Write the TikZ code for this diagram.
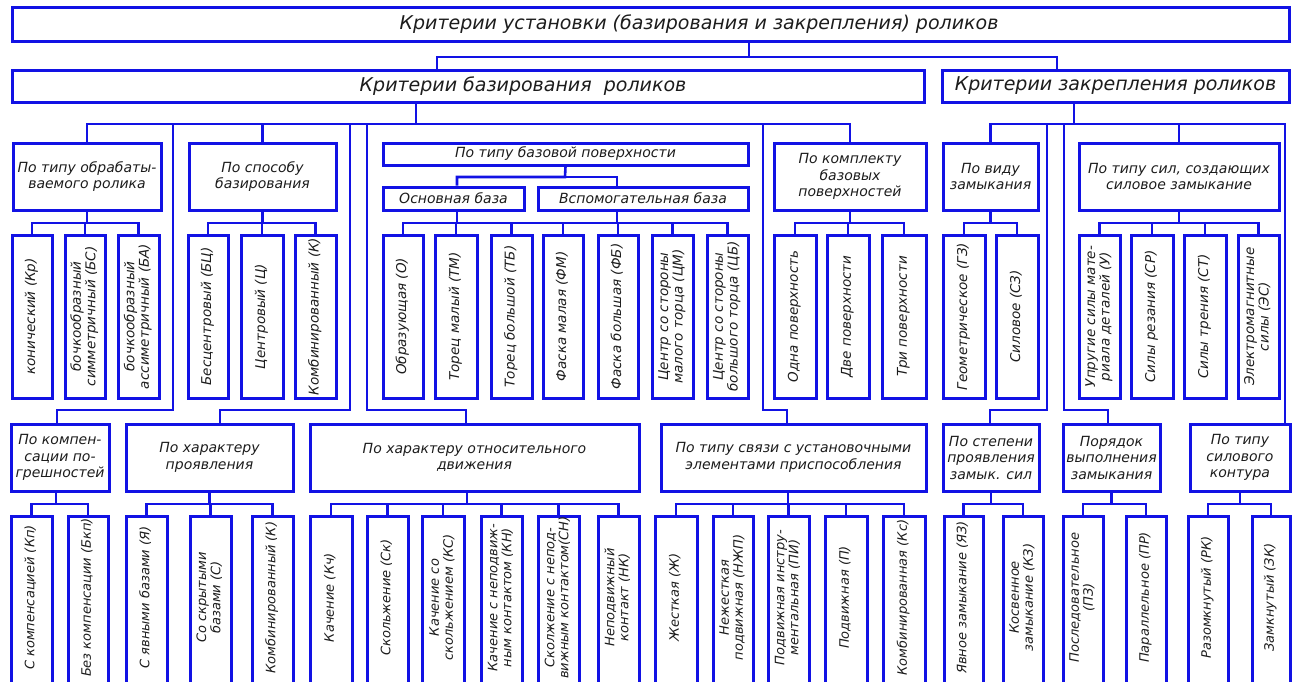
\documentclass[tikz,border=0pt]{standalone}
\usepackage{fontspec}
\setmainfont{DejaVu Sans}
\definecolor{bl}{RGB}{18,18,228}
\definecolor{tx}{RGB}{28,28,28}
\tikzset{
 box/.style={draw=bl, line width=3pt, inner sep=1pt, align=center, text=tx,
   font=\fontsize{14}{16.5}\selectfont\itshape},
 head/.style={box, font=\fontsize{19}{22}\selectfont\itshape},
 leaf/.style={box, rotate=90, font=\fontsize{13.5}{14}\selectfont\itshape},
 leafb/.style={leaf, font=\fontsize{13}{14}\selectfont\itshape},
 wire/.style={draw=bl, line width=2.6pt}
}
% \bx[style]{name}{x1}{y1}{x2}{y2}{text}
\newcommand\bx[7][box]{%
 \pgfmathsetmacro\bxw{#5-#3}\pgfmathsetmacro\bxh{#6-#4}%
 \pgfmathsetmacro\bxcx{(#3+#5)/2}\pgfmathsetmacro\bxcy{(#4+#6)/2}%
 \node[#1,minimum width=\bxw pt,minimum height=\bxh pt] (#2) at (\bxcx,\bxcy) {#7};}
% \lf[shift]{name}{x1}{y1}{x2}{y2}{text}  (rotated leaf, upper row)
\newcommand\lf[7][0pt]{%
 \pgfmathsetmacro\bxw{#6-#4}\pgfmathsetmacro\bxh{#5-#3}%
 \pgfmathsetmacro\bxcx{(#3+#5)/2}\pgfmathsetmacro\bxcy{(#4+#6)/2}%
 \node[leaf,minimum width=\bxw pt,minimum height=\bxh pt] (#2) at (\bxcx,\bxcy)
   {\makebox[0pt]{\hspace*{#1}\begin{tabular}{@{}c@{}}#7\end{tabular}}};}
% \lfb{name}{x1}{y1}{x2}{y2}{text}  (rotated leaf, lower row, cut by the page edge)
\newcommand\lfb[6]{%
 \pgfmathsetmacro\bxw{#5-#3}\pgfmathsetmacro\bxh{#4-#2}%
 \pgfmathsetmacro\bxcx{(#2+#4)/2}\pgfmathsetmacro\bxcy{(#3+#5)/2}%
 \node[leafb,minimum width=\bxw pt,minimum height=\bxh pt] (#1) at (\bxcx,\bxcy)
   {\makebox[0pt]{\hspace*{7pt}\begin{tabular}{@{}c@{}}#6\end{tabular}}};}
\newcommand\fan[3]{\foreach \c in {#3}{\draw[wire] (#1) -- (#1 |- 0,#2) -| (\c.east);}}
\begin{document}
\begin{tikzpicture}[x=1pt,y=-1pt]
\useasboundingbox (0,0) rectangle (1293,681);
% level 0,1
\bx[head]{top}{12}{7}{1289}{41}{\hspace*{97pt}Критерии установки (базирования и закрепления) роликов}
\bx[head]{bz}{12}{70}{924}{102}{\hspace*{110pt}Критерии базирования\ \ роликов}
\bx[head]{zk}{942}{70}{1289}{102}{Критерии закрепления роликов}
% level 2
\bx{A}{13}{143}{161}{210}{По типу обрабаты-\\ваемого ролика}
\bx{B}{189}{143}{336}{210}{По способу\\базирования}
\bx{C}{383}{143}{748}{165}{По типу базовой поверхности}
\bx{C1}{383}{187}{524}{210}{Основная база}
\bx{C2}{538}{187}{748}{210}{Вспомогательная база}
\bx{D}{774}{143}{926}{210}{По комплекту\\базовых\\поверхностей}
\bx{E}{943}{143}{1038}{210}{По виду\\замыкания}
\bx{F}{1079}{143}{1279}{210}{По типу сил, создающих\\силовое замыкание}
% leaves row 1
\lf{a1}{12}{235}{52}{398}{конический (Кр)}
\lf{a2}{65}{235}{105}{398}{бочкообразный\\симметричный (БС)}
\lf{a3}{118}{235}{159}{398}{бочкообразный\\ассиметричный (БА)}
\lf{b1}{188}{235}{228}{398}{Бесцентровый (БЦ)}
\lf{b2}{241}{235}{283}{398}{Центровый (Ц)}
\lf{b3}{295}{235}{336}{398}{Комбинированный (К)}
\lf{c1}{383}{235}{423}{398}{Образующая (О)}
\lf{c2}{435}{235}{477}{398}{Торец малый (ТМ)}
\lf{c3}{491}{235}{532}{398}{Торец большой (ТБ)}
\lf{c4}{543}{235}{583}{398}{Фаска малая (ФМ)}
\lf{c5}{598}{235}{638}{398}{Фаска большая (ФБ)}
\lf{c6}{652}{235}{693}{398}{Центр со стороны\\малого торца (ЦМ)}
\lf{c7}{707}{235}{748}{398}{Центр со стороны\\большого торца (ЦБ)}
\lf{d1}{774}{235}{816}{398}{Одна поверхность}
\lf{d2}{827}{235}{869}{398}{Две поверхности}
\lf{d3}{882}{235}{926}{398}{Три поверхности}
\lf{e1}{943}{235}{985}{398}{Геометрическое (ГЗ)}
\lf{e2}{996}{235}{1038}{398}{Силовое (СЗ)}
\lf{f1}{1079}{235}{1120}{398}{Упругие силы мате-\\риала деталей (У)}
\lf{f2}{1131}{235}{1173}{398}{Силы резания (СР)}
\lf{f3}{1184}{235}{1226}{398}{Силы трения (СТ)}
\lf{f4}{1238}{235}{1279}{398}{Электромагнитные\\силы (ЭС)}
% level 3
\bx{G}{11}{424}{109}{491}{По компен-\\сации по-\\грешностей}
\bx{H}{126}{424}{293}{491}{По характеру\\проявления}
\bx{I}{310}{424}{639}{491}{По характеру относительного\\движения}
\bx{J}{661}{424}{926}{491}{По типу связи с установочными\\элементами приспособления}
\bx{K}{943}{424}{1039}{491}{По степени\\проявления\\замык. сил}
\bx{L}{1063}{424}{1160}{491}{Порядок\\выполнения\\замыкания}
\bx{M}{1190}{424}{1290}{491}{По типу\\силового\\контура}
% leaves row 2
\lfb{g1}{11}{516}{52}{686}{С компенсацией (Кп)}
\lfb{g2}{68}{516}{108}{686}{Без компенсации (Бкп)}
\lfb{h1}{126}{516}{167}{686}{С явными базами (Я)}
\lfb{h2}{190}{516}{231}{686}{Со скрытыми\\базами (С)}
\lfb{h3}{252}{516}{293}{686}{Комбинированный (К)}
\lfb{i1}{310}{516}{352}{686}{Качение (Кч)}
\lfb{i2}{367}{516}{408}{686}{Скольжение (Ск)}
\lfb{i3}{422}{516}{464}{686}{Качение со\\скольжением (КС)}
\lfb{i4}{481}{516}{522}{686}{Качение с неподвиж-\\ным контактом (КН)}
\lfb{i5}{538}{516}{579}{686}{Сколжение с непод-\\вижным контактом(СН)}
\lfb{i6}{598}{516}{639}{686}{Неподвижный\\контакт (НК)}
\lfb{j1}{655}{516}{697}{686}{Жесткая (Ж)}
\lfb{j2}{713}{516}{753}{686}{Нежесткая\\подвижная (НЖП)}
\lfb{j3}{768}{516}{809}{686}{Подвижная инстру-\\ментальная (ПИ)}
\lfb{j4}{825}{516}{867}{686}{Подвижная (П)}
\lfb{j5}{883}{516}{925}{686}{Комбинированная (Кс)}
\lfb{k1}{944}{516}{983}{686}{Явное замыкание (ЯЗ)}
\lfb{k2}{1003}{516}{1043}{686}{Косвенное\\замыкание (КЗ)}
\lfb{l1}{1063}{516}{1103}{686}{Последовательное\\(ПЗ)}
\lfb{l2}{1126}{516}{1166}{686}{Параллельное (ПР)}
\lfb{m1}{1188}{516}{1228}{686}{Разомкнутый (РК)}
\lfb{m2}{1252}{516}{1290}{686}{Замкнутый (ЗК)}
% connectors top
\coordinate (j0) at (749,57);
\draw[wire] (top.south -| j0) -- (j0) -| (bz.north -| 437,0);
\draw[wire] (j0) -| (zk.north -| 1057,0);
% basing bar
\coordinate (jb) at (416,124);
\draw[wire] (bz.south -| jb) -- (jb);
\foreach \n in {A,B,D}{\draw[wire] (jb) -| (\n.north);}
\draw[wire] (jb) -| (173,410) -| (G.north -| 57,0);
\draw[wire] (jb) -| (350,410) -| (H.north -| 220,0);
\draw[wire] (jb) -| (367,410) -| (I.north -| 466,0);
\draw[wire] (jb) -| (763,410) -| (J.north -| 787,0);
% clamping bar
\coordinate (jz) at (1074,124);
\draw[wire] (zk.south -| jz) -- (jz);
\foreach \n in {E,F}{\draw[wire] (jz) -| (\n.north);}
\draw[wire] (jz) -| (1047,410) -| (K.north -| 990,0);
\draw[wire] (jz) -| (1064,410) -| (L.north -| 1108,0);
\draw[wire] (jz) -| (M.north -| 1285,0);
% base surface subtree
\coordinate (jc) at (565,177);
\draw[wire] (C.south) -- (jc) -| (C1.north -| 457,0);
\draw[wire] (jc) -| (C2.north -| 617,0);
\coordinate (c1s) at (C1.south -| 457,0);
\fan{c1s}{223}{c1,c2,c3,c4,c5,c6,c7}
\draw[wire] (C2.south -| 617,0) -- (617,223);
% fans row 1
\fan{A.south}{223}{a1,a2,a3}
\fan{B.south}{223}{b1,b2,b3}
\fan{D.south}{223}{d1,d2,d3}
\fan{E.south}{223}{e1,e2}
\fan{F.south}{223}{f1,f2,f3,f4}
% fans row 2
\coordinate (gs) at (G.south -| 56,0);
\fan{gs}{504}{g1,g2}
\fan{H.south}{504}{h1,h2,h3}
\coordinate (is) at (I.south -| 467,0);
\fan{is}{504}{i1,i2,i3,i4,i5,i6}
\coordinate (js) at (J.south -| 788,0);
\fan{js}{504}{j1,j2,j3,j4,j5}
\fan{K.south}{504}{k1,k2}
\fan{L.south}{504}{l1,l2}
\fan{M.south}{504}{m1,m2}
\end{tikzpicture}
\end{document}
